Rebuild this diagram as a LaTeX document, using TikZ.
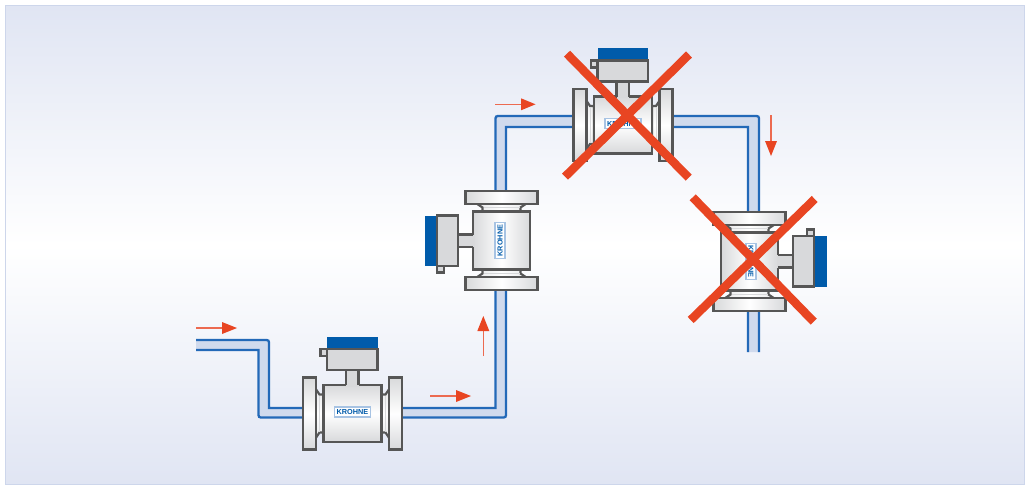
\documentclass[tikz,border=0pt]{standalone}
\usepackage{fontspec}
\setmainfont{Liberation Sans}
\usetikzlibrary{arrows.meta,calc}
\definecolor{pipeblue}{HTML}{2369B8}
\definecolor{pipefill}{HTML}{D0DAED}
\definecolor{metal}{HTML}{565656}
\definecolor{trans}{HTML}{D8D9DB}
\definecolor{krblue}{HTML}{005BAA}
\definecolor{redor}{HTML}{E84522}
\definecolor{redline}{HTML}{EC6A50}
\definecolor{bgedge}{HTML}{E0E5F3}
\definecolor{frameblue}{HTML}{CDD6EB}
\tikzset{
  x=1pt,y=-1pt,
  pipeface/.style={fill=pipefill,draw=none},
  pipeline/.style={draw=pipeblue,line width=2.3pt,line join=miter},
  metalpart/.style={draw=metal,line width=2.2pt,line join=miter,top color=#1,bottom color=#1,middle color=white,shading angle=\mang},
  transbox/.style={draw=metal,line width=2.2pt,fill=trans},
  necklight/.style={draw=trans,line width=1pt},
  logobox/.style={draw=pipeblue!40,fill=white,line width=1.2pt,inner sep=0pt,minimum width=36pt,minimum height=10pt,
     text=krblue,font=\bfseries\fontsize{7.3}{8}\selectfont,transform shape},
  flowhead/.style={fill=redor,draw=none},
  flowline/.style={draw=redline,line width=1.2pt},
  crossbar/.style={draw=redor,line width=8.5pt,line cap=butt},
}
% name, x, y, rotation, shading angle
\newcommand{\flowmeter}[5]{%
 \def\mang{#5}%
 \begin{scope}[shift={(#2,#3)},rotate=#4]
  % necks
  \path[metalpart=trans!60] (-37,-25) -- (-33,-19) -- (-29,-19) -- (-29,19) -- (-33,19) -- (-37,25) -- cycle;
  \path[metalpart=trans!60] (37,-25) -- (33,-19) -- (29,-19) -- (29,19) -- (33,19) -- (37,25) -- cycle;
  \draw[necklight] (-33,-18) -- (-33,18) (33,-18) -- (33,18);
  % flanges
  \path[metalpart=trans] (-49.5,-36) rectangle (-36.5,36);
  \path[metalpart=trans] (36.5,-36) rectangle (49.5,36);
  % body
  \path[metalpart=trans] (-29,-28.5) rectangle (29,28.5);
  % stem
  \fill[trans] (-6.5,-44) rectangle (6,-27);
  \draw[metal,line width=2.2pt] (-6.5,-44) -- (-6.5,-28.5) (6,-44) -- (6,-28.5);
  % transmitter
  \fill[krblue] (-25.5,-77) rectangle (25,-64.5);
  \draw[transbox] (-25.5,-64.5) rectangle (25,-43.5);
  \draw[transbox] (-32,-64.5) rectangle (-25.5,-57.5);
  \node[logobox] (#1) at (0,-1.5) {KROHNE};
 \end{scope}}
\newcommand{\flowarrow}[4]{% start, head base, tip, perpendicular offset vector
  \draw[flowline] #1 -- #2;
  \fill[flowhead] #3 -- ($#2+#4$) -- ($#2-#4$) -- cycle;}
\begin{document}
\begin{tikzpicture}
\useasboundingbox (0,0) rectangle (1030,490);
\fill[white] (0,0) rectangle (1030,490);
% background
\path[top color=bgedge,bottom color=white] (5.5,5.5) rectangle (1024.5,245);
\path[top color=white,bottom color=bgedge] (5.5,245) rectangle (1024.5,484.5);
\draw[frameblue,line width=1.2pt] (5.5,5.5) rectangle (1024.5,484.5);
% pipe faces
\fill[pipeface] (196,340) -- (264,340) .. controls (269,340) and (269,340) .. (269,345) -- (269,408) -- (310,408) -- (310,417.5) -- (263.5,417.5) .. controls (258.5,417.5) and (258.5,417.5) .. (258.5,412.5) -- (258.5,350) -- (196,350) -- cycle;
\fill[pipeface] (395,408) -- (495.5,408) -- (495.5,121) .. controls (495.5,116) and (495.5,116) .. (500.5,116) -- (754,116) .. controls (759,116) and (759,116) .. (759,121) -- (759,352) -- (748,352) -- (748,127) -- (506,127) -- (506,412.5) .. controls (506,417.5) and (506,417.5) .. (501,417.5) -- (395,417.5) -- cycle;
% pipe lines
\draw[pipeline] (196,340) -- (264,340) .. controls (269,340) and (269,340) .. (269,345) -- (269,408) -- (310,408);
\draw[pipeline] (196,350) -- (258.5,350) -- (258.5,412.5) .. controls (258.5,417.5) and (258.5,417.5) .. (263.5,417.5) -- (310,417.5);
\draw[pipeline] (395,408) -- (495.5,408) -- (495.5,121) .. controls (495.5,116) and (495.5,116) .. (500.5,116) -- (754,116) .. controls (759,116) and (759,116) .. (759,121) -- (759,352);
\draw[pipeline] (395,417.5) -- (501,417.5) .. controls (506,417.5) and (506,417.5) .. (506,412.5) -- (506,127) -- (748,127) -- (748,352);
% meters
\flowmeter{m1}{352.5}{413.5}{0}{0}
\flowmeter{m2}{501.5}{240.5}{90}{90}
\flowmeter{m3}{623}{125}{0}{0}
\flowmeter{m4}{749.5}{261.5}{-90}{90}
% flow arrows
\flowarrow{(196,328)}{(222,328)}{(237,328)}{(0,6)}
\flowarrow{(430,396)}{(456,396)}{(471,396)}{(0,6)}
\flowarrow{(483.3,356)}{(483.3,331)}{(483.3,316)}{(6,0)}
\flowarrow{(495,104.3)}{(521,104.3)}{(535.5,104.3)}{(0,6)}
\flowarrow{(771,115)}{(771,141)}{(771,156)}{(6,0)}
% crosses
\draw[crossbar] (567,53.7) -- (688.7,177.7);
\draw[crossbar] (689,54.5) -- (565,176.7);
\draw[crossbar] (692.7,197.3) -- (813.7,321.7);
\draw[crossbar] (814.7,199) -- (690.7,320);
\end{tikzpicture}
\end{document}
